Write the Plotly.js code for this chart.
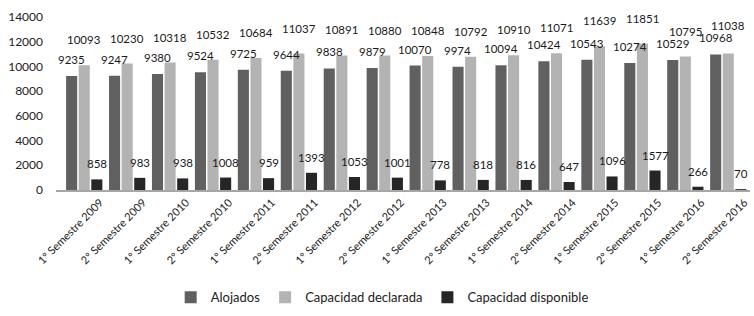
<!DOCTYPE html>
<html><head><meta charset="utf-8">
<script src="https://cdn.plot.ly/plotly-3.0.1.min.js"></script>
<style>body{margin:0;background:#fff}#c{width:754px;height:316px}</style>
</head><body><div id="c"></div>
<script>
const categories = ["1º Semestre 2009","2º Semestre 2009","1º Semestre 2010","2º Semestre 2010","1º Semestre 2011","2º Semestre 2011","1º Semestre 2012","2º Semestre 2012","1º Semestre 2013","2º Semestre 2013","1º Semestre 2014","2º Semestre 2014","1º Semestre 2015","2º Semestre 2015","1º Semestre 2016","2º Semestre 2016"];
const alojados = [9235,9247,9380,9524,9725,9644,9838,9879,10070,9974,10094,10424,10543,10274,10529,10968];
const capacidadDeclarada = [10093,10230,10318,10532,10684,11037,10891,10880,10848,10792,10910,11071,11639,11851,10795,11038];
const capacidadDisponible = [858,983,938,1008,959,1393,1053,1001,778,818,816,647,1096,1577,266,70];
const yTicks = [0,2000,4000,6000,8000,10000,12000,14000];

const font = "Lato, 'Open Sans', sans-serif";
const series = [
  {name:'Alojados', y:alojados, color:'#606060', off:-1, lift:() => 8},
  {name:'Capacidad declarada', y:capacidadDeclarada, color:'#b3b3b3', off:0, lift:i => (capacidadDeclarada[i] - alojados[i] < 200 ? 20 : 17)},
  {name:'Capacidad disponible', y:capacidadDisponible, color:'#262626', off:1, lift:() => 7}
];
const W = 754, H = 316, M = {l:56, r:4, t:17, b:121};
const bargap = 0.12, bargroupgap = 0.12;
const slot = (W - M.l - M.r) / categories.length * (1 - bargap) / 3;

const data = series.map(s => ({type:'bar', name:s.name, x:categories, y:s.y, marker:{color:s.color}, textposition:'none', hoverinfo:'skip'}));
const annotations = [];
series.forEach(s => {
  s.y.forEach((v, i) => {
    annotations.push({x:categories[i], y:v, xref:'x', yref:'y', text:String(v), showarrow:false,
      xanchor:'center', yanchor:'bottom', xshift:s.off*slot, yshift:s.lift(i),
      font:{family:font, size:11.5, color:'#1a1a1a'}});
  });
});
const layout = {
  width:W, height:H, margin:M,
  paper_bgcolor:'#fff', plot_bgcolor:'#fff',
  barmode:'group', bargap:bargap, bargroupgap:bargroupgap,
  font:{family:font, color:'#222'},
  xaxis:{tickangle:-45, tickfont:{size:11, family:font, color:'#222'}, ticklabelshift:16, showline:true, linecolor:'#a6a6a6', linewidth:2, ticks:'', automargin:false},
  yaxis:{range:[0,14000], tickvals:yTicks, ticktext:yTicks.map(String), showgrid:false, zeroline:false, showline:false, tickfont:{size:12, family:font, color:'#222'}, ticks:'', ticklabelstandoff:12, automargin:false},
  legend:{orientation:'h', x:0.47, xanchor:'center', y:-0.62, yanchor:'middle', font:{size:13, family:font, color:'#222'}, traceorder:'normal'},
  showlegend:true,
  annotations:annotations
};
Plotly.newPlot('c', data, layout, {displayModeBar:false, staticPlot:true});
</script></body></html>
